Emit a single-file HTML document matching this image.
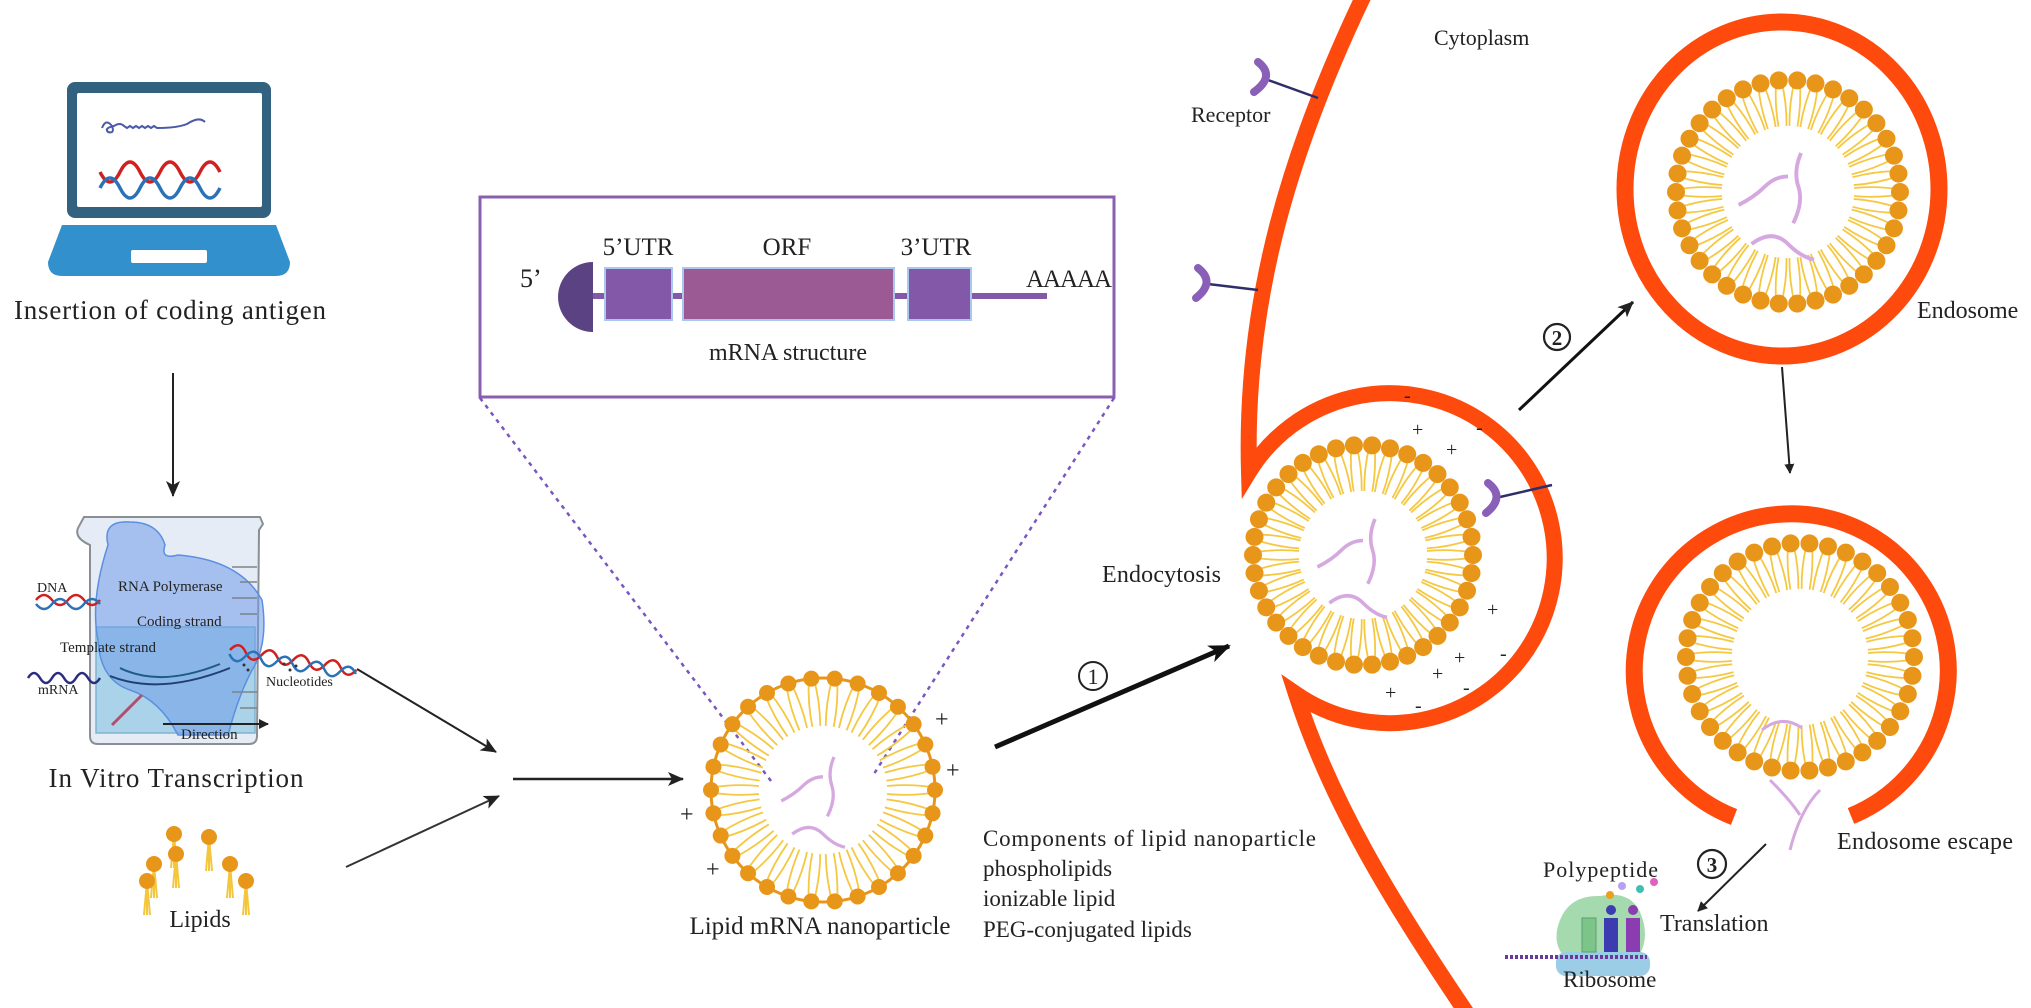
<!DOCTYPE html>
<html><head><meta charset="utf-8"><style>
html,body{margin:0;padding:0;background:#fff;}
svg{display:block;}
text{font-family:"Liberation Serif",serif;fill:#222;}
</style></head><body>
<svg id="s" width="2031" height="1008" viewBox="0 0 2031 1008" xmlns="http://www.w3.org/2000/svg">
<defs>
<marker id="ah" markerWidth="10" markerHeight="10" refX="9" refY="5" orient="auto" markerUnits="userSpaceOnUse"><path d="M0,0 L10,5 L0,10 z" fill="#222"/></marker>
<marker id="ahb" markerWidth="22" markerHeight="18" refX="20" refY="9" orient="auto" markerUnits="userSpaceOnUse"><path d="M0,0 L22,9 L0,18 L6,9 z" fill="#111"/></marker>
<marker id="ahm" markerWidth="16" markerHeight="14" refX="15" refY="7" orient="auto" markerUnits="userSpaceOnUse"><path d="M0,0 L16,7 L0,14 L4,7 z" fill="#222"/></marker>
</defs>

<!-- Laptop -->
<rect x="67" y="82" width="204" height="136" rx="8" fill="#336281"/>
<rect x="77" y="93" width="185" height="114" rx="2" fill="#fff"/>
<path d="M102,128 q4,-10 10,-2 q3,8 -4,6 q-4,-4 6,-6 q6,-4 10,0 l3,2 l3,-2 l3,2 l3,-2 l3,2 l3,-2 l3,2 l3,-2 l3,2 l3,-2 l3,2 q20,0 30,-4 q12,-8 18,-2" fill="none" stroke="#4a5aa8" stroke-width="2"/>
<path d="M100,172 q10,20 20,0 q10,-20 20,0 q10,20 20,0 q10,-20 20,0 q10,20 20,0 q10,-20 20,0" fill="none" stroke="#d02020" stroke-width="3.5"/>
<path d="M100,188 q10,-20 20,0 q10,20 20,0 q10,-20 20,0 q10,20 20,0 q10,-20 20,0 q10,20 20,0" fill="none" stroke="#2a73b8" stroke-width="3.5"/>
<path d="M62,225 L276,225 L290,262 Q290,276 276,276 L62,276 Q48,276 48,262 Z" fill="#3291cc"/>
<rect x="131" y="250" width="76" height="13" rx="2" fill="#fff"/>
<text x="170" y="319" font-size="27" text-anchor="middle" textLength="312">Insertion of coding antigen</text>
<line x1="173" y1="373" x2="173" y2="496" stroke="#222" stroke-width="2" marker-end="url(#ahm)"/>

<!-- Beaker -->
<path d="M84,517 L260,517 L263,524 L259,530 L257,736 Q257,744 249,744 L98,744 Q90,744 90,736 L90,545 Q74,538 78,528 Z" fill="#e6ecf5" stroke="#8a8f96" stroke-width="2"/>
<rect x="96" y="627" width="159" height="106" fill="#aad3ea" stroke="#7db4cf" stroke-width="1.5"/>
<path d="M108,545 Q102,520 130,522 Q158,522 165,545 Q160,560 178,555 Q240,560 262,600 Q268,640 255,665 Q240,690 228,735 L178,735 Q160,700 130,690 Q100,680 98,640 Q90,600 108,545 Z" fill="#6f9ce8" fill-opacity="0.55" stroke="#5b8fe0" stroke-width="1.5"/>
<g stroke="#7d838c" stroke-width="1.5"><line x1="232" y1="567" x2="257" y2="567"/><line x1="240" y1="582" x2="257" y2="582"/><line x1="232" y1="598" x2="257" y2="598"/><line x1="240" y1="614" x2="257" y2="614"/><line x1="232" y1="692" x2="257" y2="692"/><line x1="240" y1="708" x2="257" y2="708"/></g>
<path d="M120,668 q40,20 100,-4" fill="none" stroke="#1f5a80" stroke-width="2"/>
<path d="M110,676 q50,20 120,-8" fill="none" stroke="#1f4070" stroke-width="2"/>
<path d="M36,600 q8,-10 16,0 q8,10 16,0 q8,-10 16,0 q8,10 16,0" fill="none" stroke="#d02020" stroke-width="2.5"/>
<path d="M36,604 q8,10 16,0 q8,-10 16,0 q8,10 16,0 q8,-10 16,0" fill="none" stroke="#2a73b8" stroke-width="2.5"/>
<path d="M230,650 q8,-12 16,0 q8,12 16,0 q8,-12 16,0 q8,12 16,0 q8,-12 16,0 q8,12 16,0 q8,-12 16,0 q8,12 16,0" fill="none" stroke="#d02020" stroke-width="2.5" transform="rotate(9 230 650)"/>
<path d="M230,654 q8,12 16,0 q8,-12 16,0 q8,12 16,0 q8,-12 16,0 q8,12 16,0 q8,-12 16,0 q8,12 16,0 q8,-12 16,0" fill="none" stroke="#2a73b8" stroke-width="2.5" transform="rotate(9 230 650)"/>
<path d="M28,678 q6,-10 12,0 q6,10 12,0 q6,-10 12,0 q6,10 12,0 q6,-10 12,0 q6,10 12,0" fill="none" stroke="#2c2c80" stroke-width="2.5"/>
<path d="M112,725 q10,-10 30,-30" stroke="#b05070" stroke-width="3" fill="none"/>
<line x1="163" y1="724" x2="268" y2="724" stroke="#222" stroke-width="2" marker-end="url(#ah)"/>
<g font-size="14">
<text x="37" y="592">DNA</text>
<text x="118" y="591" font-size="15">RNA Polymerase</text>
<text x="137" y="626" font-size="15">Coding strand</text>
<text x="60" y="652" font-size="15">Template strand</text>
<text x="38" y="694">mRNA</text>
<text x="266" y="686">Nucleotides</text>
<text x="181" y="739" font-size="15">Direction</text>
</g>
<g fill="#333"><circle cx="244" cy="665" r="1.5"/><circle cx="248" cy="670" r="1.5"/><circle cx="284" cy="664" r="1.5"/><circle cx="290" cy="670" r="1.5"/><circle cx="296" cy="666" r="1.5"/></g>
<text x="176" y="787" font-size="27" text-anchor="middle" textLength="255">In Vitro Transcription</text>

<g id="freelip"></g>
<text x="200" y="927" font-size="24" text-anchor="middle">Lipids</text>

<line x1="357" y1="669" x2="496" y2="752" stroke="#222" stroke-width="2" marker-end="url(#ahm)"/>
<line x1="346" y1="867" x2="499" y2="796" stroke="#333" stroke-width="2" marker-end="url(#ahm)"/>
<line x1="513" y1="779" x2="683" y2="779" stroke="#222" stroke-width="2.5" marker-end="url(#ahm)"/>

<rect x="480" y="197" width="634" height="200" fill="none" stroke="#8a5fb0" stroke-width="3"/>
<text x="520" y="287" font-size="26">5’</text>
<path d="M593,262 A35,35 0 0 0 593,332 Z" fill="#5a4283"/>
<rect x="593" y="293" width="454" height="6" fill="#8458a8"/>
<rect x="605" y="268" width="67" height="52" fill="#8458a8" stroke="#a9c8ee" stroke-width="2"/>
<rect x="683" y="268" width="211" height="52" fill="#9b5a94" stroke="#a9c8ee" stroke-width="2"/>
<rect x="908" y="268" width="63" height="52" fill="#8458a8" stroke="#a9c8ee" stroke-width="2"/>
<g font-size="25" text-anchor="middle">
<text x="638" y="255">5’UTR</text><text x="787" y="255">ORF</text><text x="936" y="255">3’UTR</text>
</g>
<text x="1026" y="287" font-size="25" textLength="86">AAAAA</text>
<text x="788" y="360" font-size="24" text-anchor="middle">mRNA structure</text>
<line x1="480" y1="398" x2="771" y2="781" stroke="#7a56c0" stroke-width="2.5" stroke-dasharray="4,5"/>
<line x1="1114" y1="398" x2="872" y2="777" stroke="#7a56c0" stroke-width="2.5" stroke-dasharray="4,5"/>

<g id="lnp"></g>
<g font-size="24" fill="#222"><text x="935" y="727">+</text><text x="946" y="778">+</text><text x="706" y="877">+</text><text x="680" y="822">+</text></g>
<text x="820" y="934" font-size="25" text-anchor="middle">Lipid mRNA nanoparticle</text>
<g font-size="23"><text x="983" y="846" textLength="333">Components of lipid nanoparticle</text><text x="983" y="876">phospholipids</text><text x="983" y="906">ionizable lipid</text><text x="983" y="937">PEG-conjugated lipids</text></g>

<line x1="995" y1="747" x2="1229" y2="646" stroke="#111" stroke-width="5" marker-end="url(#ahb)"/>
<circle cx="1093" cy="676" r="14" fill="none" stroke="#222" stroke-width="2"/><text x="1093" y="684" font-size="22" text-anchor="middle">1</text>
<text x="1102" y="582" font-size="24" textLength="119">Endocytosis</text>

<path d="M1364,-5 C1290,150 1244,300 1249,472 A165,165 0 1 1 1296,694 C1330,800 1390,900 1468,1015" fill="none" stroke="#fe4a0c" stroke-width="16" stroke-linejoin="miter" stroke-miterlimit="20"/>
<g stroke="#2e2e6a" stroke-width="2.5"><line x1="1268" y1="80" x2="1318" y2="98"/><line x1="1208" y1="284" x2="1258" y2="290"/><line x1="1500" y1="497" x2="1552" y2="485"/></g>
<g fill="none" stroke="#8a5fb8" stroke-width="8" stroke-linecap="round">
<path d="M1258,62 Q1276,76 1254,92"/><path d="M1198,268 Q1216,282 1196,298"/><path d="M1488,483 Q1506,497 1486,513"/>
</g>
<text x="1191" y="122" font-size="22">Receptor</text>
<text x="1434" y="45" font-size="22">Cytoplasm</text>

<g id="ves"></g>
<g font-size="20" fill="#222"><text x="1404" y="402">-</text><text x="1412" y="436">+</text><text x="1476" y="434">-</text><text x="1446" y="456">+</text><text x="1487" y="616">+</text><text x="1454" y="664">+</text><text x="1500" y="660">-</text><text x="1432" y="680">+</text><text x="1463" y="694">-</text><text x="1415" y="712">-</text><text x="1385" y="699">+</text></g>

<ellipse cx="1782" cy="189" rx="157" ry="167" fill="none" stroke="#fe4a0c" stroke-width="17"/>
<g id="e1"></g>
<text x="1917" y="318" font-size="24">Endosome</text>
<line x1="1519" y1="410" x2="1633" y2="302" stroke="#111" stroke-width="3" marker-end="url(#ahm)"/>
<circle cx="1557" cy="337" r="13" fill="none" stroke="#222" stroke-width="2.2"/><text x="1557" y="345" font-size="21" font-weight="bold" text-anchor="middle">2</text>
<line x1="1782" y1="367" x2="1790" y2="473" stroke="#222" stroke-width="2" marker-end="url(#ah)"/>

<path d="M1734,817 A157,157 0 1 1 1851,816" fill="none" stroke="#fe4a0c" stroke-width="17"/>
<g id="e2"></g>
<path d="M1762,730 q20,-16 40,-2 M1770,780 q20,20 30,35 M1820,790 q-20,20 -30,60" fill="none" stroke="#d6a8e0" stroke-width="3"/>
<text x="1837" y="849" font-size="24" textLength="176">Endosome escape</text>
<line x1="1766" y1="844" x2="1698" y2="911" stroke="#222" stroke-width="2" marker-end="url(#ah)"/>
<circle cx="1712" cy="864" r="14" fill="none" stroke="#222" stroke-width="2.2"/><text x="1712" y="872" font-size="21" font-weight="bold" text-anchor="middle">3</text>

<path d="M1560,920 Q1570,895 1600,896 Q1630,890 1640,912 Q1650,935 1640,954 L1562,954 Q1552,940 1560,920 Z" fill="#8fcf9a" fill-opacity="0.8"/>
<rect x="1556" y="952" width="94" height="24" rx="10" fill="#9ccde6"/>
<rect x="1582" y="918" width="14" height="34" fill="#7cc488" stroke="#5aa070"/>
<rect x="1604" y="918" width="14" height="34" fill="#3c3cb0"/><circle cx="1611" cy="910" r="5" fill="#3c3cb0"/>
<rect x="1626" y="918" width="14" height="34" fill="#8a3cb0"/><circle cx="1633" cy="910" r="5" fill="#8a3cb0"/>
<line x1="1505" y1="957" x2="1647" y2="957" stroke="#6a3a9a" stroke-width="4" stroke-dasharray="3,2"/>
<circle cx="1610" cy="895" r="4" fill="#e8a020"/><circle cx="1622" cy="886" r="4" fill="#b8a0f0"/><circle cx="1640" cy="889" r="4" fill="#40c0b0"/><circle cx="1654" cy="882" r="4" fill="#e060c0"/>
<text x="1543" y="877" font-size="22" textLength="115">Polypeptide</text>
<text x="1660" y="931" font-size="24">Translation</text>
<text x="1563" y="987" font-size="23">Ribosome</text>
</svg>
<script>
var NS="http://www.w3.org/2000/svg";
function el(p,t,a){var e=document.createElementNS(NS,t);for(var k in a)e.setAttribute(k,a[k]);p.appendChild(e);return e;}
function ring(id,cx,cy,R,n,hr,L,line){
 var g=document.getElementById(id);
 if(line) el(g,"circle",{cx:cx,cy:cy,r:R,fill:"none",stroke:"#e8961a","stroke-width":3});
 for(var i=0;i<n;i++){
  var a=2*Math.PI*i/n;
  var c=Math.cos(a),s=Math.sin(a);
  var hx=cx+R*c,hy=cy+R*s;
  var px=-s,py=c;
  for(var k=-1;k<=1;k+=2){
   var sx=hx+px*k*2.5, sy=hy+py*k*2.5;
   var ex=cx+(R-L)*c+px*k*4, ey=cy+(R-L)*s+py*k*4;
   var mx=(sx+ex)/2+px*k*3, my=(sy+ey)/2+py*k*3;
   el(g,"path",{d:"M"+sx+","+sy+" Q"+mx+","+my+" "+ex+","+ey,fill:"none",stroke:"#f5c842","stroke-width":1.8});
  }
  el(g,"circle",{cx:hx,cy:hy,r:hr,fill:"#e8961a"});
 }
}
function squig(id,cx,cy,sc){
 var g=document.getElementById(id);
 var d=["M-38,10 q12,-6 20,-14 q8,-8 18,-8","M10,-30 q-6,14 -2,26 q4,12 -4,28","M-28,40 q16,-12 28,0 q10,10 20,12"];
 d.forEach(function(p){el(g,"path",{d:p,fill:"none",stroke:"#d6a8e0","stroke-width":3,transform:"translate("+cx+","+cy+") scale("+sc+")"});});
}
ring("lnp",823,790,112,30,8,48,true);
squig("lnp",823,790,1.1);
ring("ves",1363,555,110,38,9,46,false);
squig("ves",1363,555,1.2);
ring("e1",1788,192,112,38,9,46,false);
squig("e1",1788,192,1.3);
ring("e2",1800,657,114,38,9,46,false);
var fl=document.getElementById("freelip");
[[174,834],[209,837],[176,854],[154,864],[230,864],[147,881],[246,881]].forEach(function(p){
 for(var k=-2;k<=2;k+=2) el(fl,"line",{x1:p[0],y1:p[1],x2:p[0]+k*1.5,y2:p[1]+34,stroke:"#f4c63d","stroke-width":2});
 el(fl,"circle",{cx:p[0],cy:p[1],r:8,fill:"#e8961a"});
});
</script>
</body></html>
